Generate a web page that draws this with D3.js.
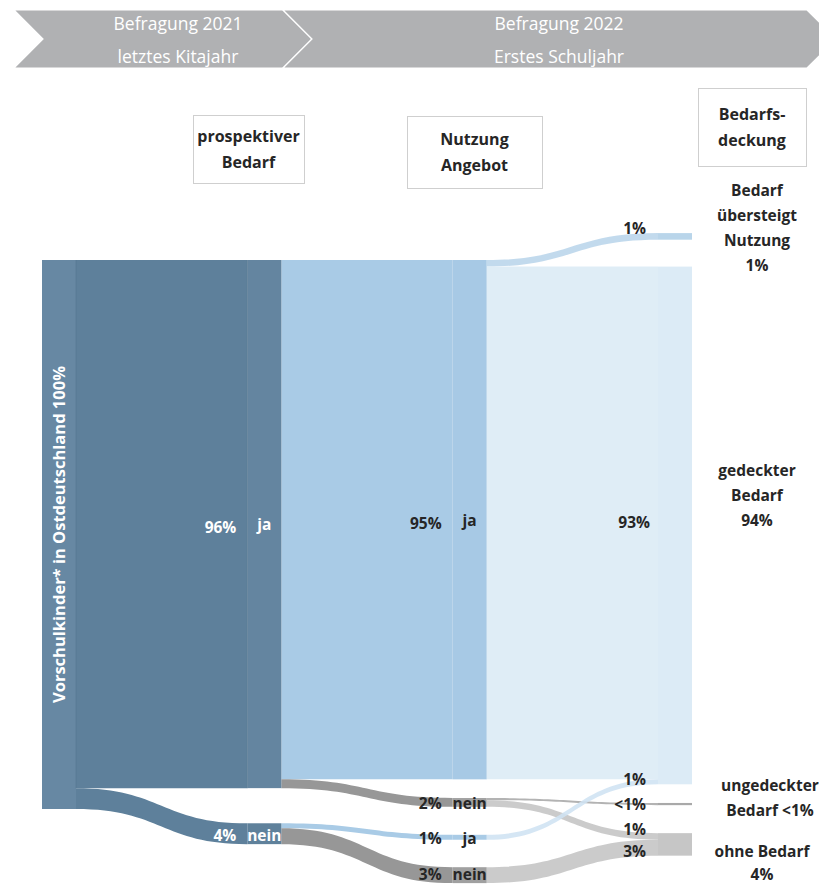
<!DOCTYPE html>
<html>
<head>
<meta charset="utf-8">
<script src="https://cdn.jsdelivr.net/npm/d3@7"></script>
<style>
  body { margin: 0; background: #fff; }
  svg { display: block; }
  text { font-family: "Open Sans", "Noto Sans", sans-serif; }
</style>
</head>
<body>
<svg id="chart" width="819" height="884"></svg>
<script>
// ---- data -------------------------------------------------------------
// survey phases shown in the banner
const surveyLines = [["Befragung 2021", "letztes Kitajahr"], ["Befragung 2022", "Erstes Schuljahr"]];
// column headings (stage 1..3)
const stageTitles = [["prospektiver", "Bedarf"], ["Nutzung", "Angebot"], ["Bedarfs-", "deckung"]];

// nodes of the flow diagram
const nodeIds    = ["total", "bedarfJa", "bedarfNein", "nutzJa", "nutzNeinA", "nutzJaB", "nutzNeinB",
                    "uebersteigt", "gedeckt", "ungedeckt", "ohne"];
const nodeStage  = [0, 1, 1, 2, 2, 2, 2, 3, 3, 3, 3];
const nodeNames  = ["Vorschulkinder* in Ostdeutschland", "ja", "nein", "ja", "nein", "ja", "nein",
                    "Bedarf\nübersteigt\nNutzung\n{v}", "gedeckter\nBedarf\n{v}", "ungedeckter\nBedarf {v}", "ohne Bedarf\n{v}"];

// flows between nodes, in percent of all children
const linkSource = ["total", "total", "bedarfJa", "bedarfJa", "bedarfNein", "bedarfNein",
                    "nutzJa", "nutzJa", "nutzNeinA", "nutzNeinA", "nutzJaB", "nutzNeinB"];
const linkTarget = ["bedarfJa", "bedarfNein", "nutzJa", "nutzNeinA", "nutzJaB", "nutzNeinB",
                    "uebersteigt", "gedeckt", "ungedeckt", "ohne", "gedeckt", "ohne"];
const linkValue  = [96.2, 3.8, 94.6, 1.6, 0.9, 2.9, 1.2, 93.4, 0.4, 1.2, 0.9, 2.9];

// ---- layout -----------------------------------------------------------
const W = 819, H = 884;
const nodeWidth = 34;
const x = d3.scaleLinear().domain([0, 3]).range([42, 658]);          // stage -> left edge
const y = d3.scaleLinear().domain([0, 100]).range([260, 809]);       // percent -> pixel
// vertical start of each node (percent units on the y scale)
const nodeTop = { total: 0, bedarfJa: 0, bedarfNein: 102.6, nutzJa: 0, nutzNeinA: 98.0, nutzJaB: 104.7,
                  nutzNeinB: 110.6, uebersteigt: -4.9, gedeckt: 1.2, ungedeckt: 98.9, ohne: 104.4 };

// ---- styles -----------------------------------------------------------
const dark = "#262626";
const nodeFill = { total: "#6788a3", bedarfJa: "#6485a0", bedarfNein: "#5f819b", nutzJa: "#a7c9e5",
                   nutzNeinA: "#a2a2a2", nutzJaB: "#a9cbe6", nutzNeinB: "#a0a0a0", uebersteigt: "#b9d5ea",
                   gedeckt: "#dcebf6", ungedeckt: "#a9a9a9", ohne: "#c6c6c6" };
function linkFill(s, t) {
  if (s === "total") return "#5e809b";
  if (t === "nutzJa" || t === "nutzJaB") return "#a9cbe6";
  if (t === "nutzNeinA" || t === "nutzNeinB") return "#979797";
  if (t === "uebersteigt") return "#b9d5ea";
  if (t === "gedeckt") return s === "nutzJa" ? "#dbeaf5" : "#cfe2f2";
  if (t === "ungedeckt") return "#a8a8a8";
  return "#c4c4c4";
}
const fmt = v => v < 0.5 ? "<1%" : Math.round(v) + "%";

// ---- build node / link objects -----------------------------------------
const nodes = nodeIds.map((id, i) => ({ id, stage: nodeStage[i], name: nodeNames[i], inLinks: [], outLinks: [] }));
const byId = new Map(nodes.map(n => [n.id, n]));
const links = linkValue.map((v, i) => {
  const l = { source: byId.get(linkSource[i]), target: byId.get(linkTarget[i]), value: v };
  l.source.outLinks.push(l); l.target.inLinks.push(l);
  return l;
});
nodes.forEach(n => {
  n.value = Math.max(d3.sum(n.inLinks, l => l.value), d3.sum(n.outLinks, l => l.value));
  n.x0 = x(n.stage); n.x1 = n.x0 + nodeWidth;
  n.y0 = y(nodeTop[n.id]); n.y1 = y(nodeTop[n.id] + n.value);
  let acc = nodeTop[n.id];
  n.outLinks.forEach(l => { l.sy0 = y(acc); acc += l.value; l.sy1 = y(acc); });
  acc = nodeTop[n.id];
  n.inLinks.forEach(l => { l.ty0 = y(acc); acc += l.value; l.ty1 = y(acc); });
});

function bandPath(l) {
  const x0 = l.source.x1, x1 = l.target.x0, xm = (x0 + x1) / 2;
  const p = d3.path();
  p.moveTo(x0, l.sy0);
  p.bezierCurveTo(xm, l.sy0, xm, l.ty0, x1, l.ty0);
  p.lineTo(x1, l.ty1);
  p.bezierCurveTo(xm, l.ty1, xm, l.sy1, x0, l.sy1);
  p.closePath();
  return p.toString();
}

const svg = d3.select("#chart");

// ---- banner -------------------------------------------------------------
const bTop = 10, bBot = 68, bMid = 39, tip = 29;
const banner = svg.append("g");
const bannerShapes = [
  [[14, bTop], [283, bTop], [283 + tip, bMid], [283, bBot], [14, bBot], [14 + tip, bMid]],
  [[283, bTop], [807, bTop], [807 + tip, bMid], [807, bBot], [283, bBot], [283 + tip, bMid]]
];
banner.selectAll("path").data(bannerShapes).join("path")
  .attr("d", d => d3.line()(d) + "Z")
  .attr("fill", "#b0b1b3").attr("stroke", "#fff").attr("stroke-width", 1.2);
const bannerCx = [178, 559];
surveyLines.forEach((lines, i) => {
  lines.forEach((t, j) => {
    banner.append("text").attr("x", bannerCx[i]).attr("y", 23 + j * 33)
      .attr("text-anchor", "middle").attr("dominant-baseline", "central")
      .attr("fill", "#fff").attr("font-size", 17.5).attr("font-weight", 400).text(t);
  });
});

// ---- stage heading boxes ----------------------------------------------------
const boxes = [{ x: 193, y: 115, w: 111, h: 68 }, { x: 407, y: 116, w: 135, h: 72 }, { x: 698, y: 88, w: 108, h: 78 }];
stageTitles.forEach((lines, i) => {
  const b = boxes[i];
  svg.append("rect").attr("x", b.x + 0.5).attr("y", b.y + 0.5).attr("width", b.w).attr("height", b.h)
    .attr("fill", "#fff").attr("stroke", "#cfcfcf").attr("stroke-width", 1);
  lines.forEach((t, j) => {
    svg.append("text").attr("x", b.x + b.w / 2).attr("y", b.y + b.h / 2 + (j - 0.5) * 26)
      .attr("text-anchor", "middle").attr("dominant-baseline", "central")
      .attr("fill", dark).attr("font-size", 16).attr("font-weight", 700).text(t);
  });
});

// ---- links ------------------------------------------------------------------
svg.append("g").selectAll("path").data(links).join("path")
  .attr("d", bandPath)
  .attr("fill", d => linkFill(d.source.id, d.target.id))
  .attr("fill-opacity", d => d.source.stage === 2 ? 0.88 : 1);

// ---- nodes ------------------------------------------------------------------
svg.append("g").selectAll("rect").data(nodes).join("rect")
  .attr("x", d => d.x0).attr("y", d => d.y0)
  .attr("width", nodeWidth).attr("height", d => Math.max(1, d.y1 - d.y0))
  .attr("fill", d => nodeFill[d.id]);

// thin seams where the dark boxes meet their flows
const seams = [
  { x: byId.get("total").x1, y0: byId.get("bedarfJa").y0, y1: byId.get("bedarfJa").y1 },
  { x: byId.get("bedarfJa").x0, y0: byId.get("bedarfJa").y0, y1: byId.get("bedarfJa").y1 }
];
svg.append("g").selectAll("line").data(seams).join("line")
  .attr("x1", d => d.x).attr("x2", d => d.x).attr("y1", d => d.y0).attr("y2", d => d.y1)
  .attr("stroke", "#55758f").attr("stroke-width", 1).attr("stroke-opacity", 0.6);

// ---- labels -----------------------------------------------------------------
const lab = svg.append("g").attr("font-weight", 700).attr("font-size", 15.5);

// total: rotated label inside the first bar
const total = byId.get("total");
lab.append("text")
  .attr("transform", `translate(${(total.x0 + total.x1) / 2 - 1},${(total.y0 + total.y1) / 2}) rotate(-90)`)
  .attr("text-anchor", "middle").attr("dominant-baseline", "central")
  .attr("fill", "#fff").attr("font-size", 16.5)
  .text(total.name + " " + fmt(total.value));

// stages 1 and 2: value left of the bar, answer on the bar
nodes.filter(n => n.stage === 1 || n.stage === 2).forEach(n => {
  const cy = Math.min((n.y0 + n.y1) / 2, H - 11);
  const col = n.stage === 1 ? "#fff" : dark;
  const big = n.value > 50;
  lab.append("text").attr("x", n.x0 - 11).attr("y", cy + (big ? 3 : 1)).attr("text-anchor", "end")
    .attr("dominant-baseline", "central").attr("fill", col).text(fmt(n.value));
  lab.append("text").attr("x", (n.x0 + n.x1) / 2).attr("y", cy + (big ? 0 : 1)).attr("text-anchor", "middle")
    .attr("dominant-baseline", "central").attr("fill", col).text(n.name);
});

// stage 3: value of each smaller incoming flow just before the bar
const ged = byId.get("gedeckt");
const mainCovered = ged.inLinks[0];
links.filter(l => l.target.stage === 3 && l !== mainCovered).forEach(l => {
  let dy = 0;
  if (l.target.id === "uebersteigt") dy = -8;
  if (l.target.id === "gedeckt") dy = -3;
  if (l.target.id === "ohne") dy = l.source.id === "nutzNeinA" ? -7 : 3;
  lab.append("text").attr("x", l.target.x0 - 12).attr("y", (l.ty0 + l.ty1) / 2 + dy)
    .attr("text-anchor", "end").attr("dominant-baseline", "central").attr("fill", dark).text(fmt(l.value));
});
// main mass of the covered demand
lab.append("text").attr("x", ged.x0 - 8).attr("y", (ged.y0 + ged.y1) / 2 - 3).attr("text-anchor", "end")
  .attr("dominant-baseline", "central").attr("fill", dark).text(fmt(mainCovered.value));

// outcome names to the right of the last column
const outcomePos = { uebersteigt: [757, 190, 25], gedeckt: [757, 470, 25], ungedeckt: [770, 785, 25], ohne: [762, 851, 23] };
nodes.filter(n => n.stage === 3).forEach(n => {
  const lines = n.name.replace("{v}", fmt(n.value)).split("\n");
  const [cx, y0, step] = outcomePos[n.id];
  lines.forEach((t, j) => {
    lab.append("text").attr("x", cx).attr("y", y0 + j * step).attr("text-anchor", "middle")
      .attr("dominant-baseline", "central").attr("fill", dark).text(t);
  });
});
</script>
</body>
</html>
